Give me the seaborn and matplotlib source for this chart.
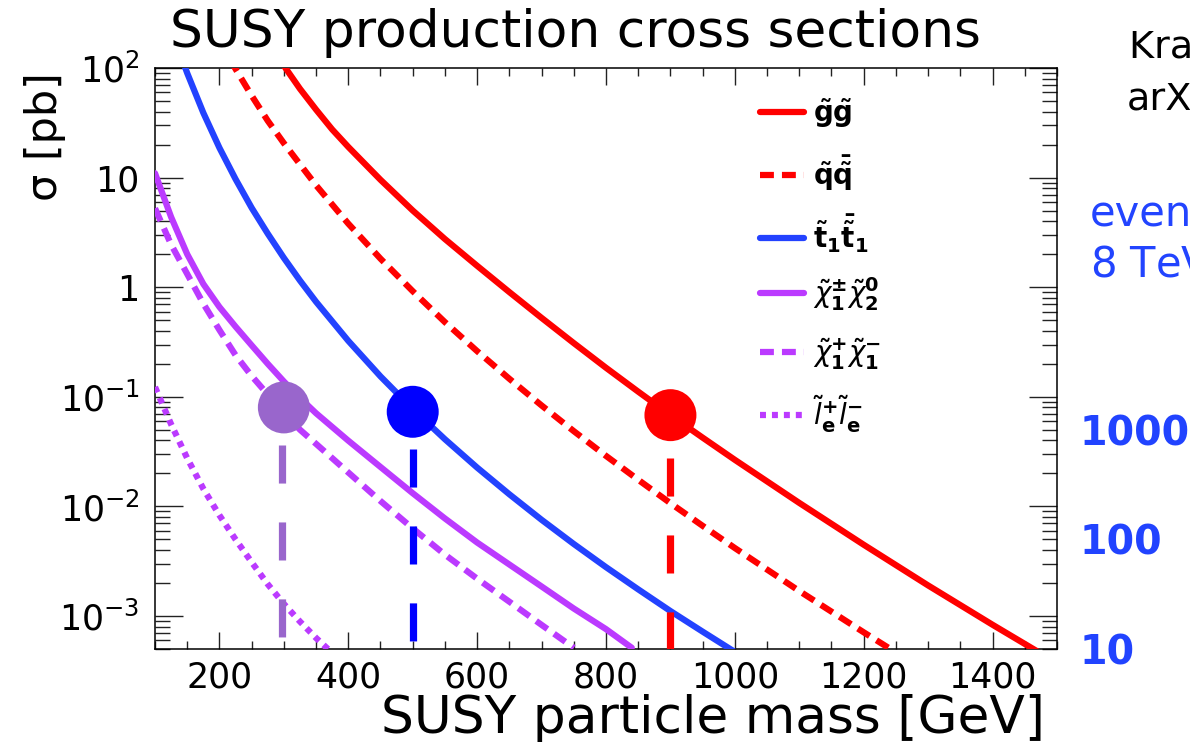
import numpy as np
import pandas as pd
import matplotlib
matplotlib.use("Agg")
import matplotlib.pyplot as plt
import seaborn as sns
from matplotlib.lines import Line2D
from matplotlib.ticker import FixedLocator, FixedFormatter, MultipleLocator, LogLocator, NullFormatter, NullLocator

# ---------------- data: NLO+NLL cross sections at 8 TeV (pb) ----------------
gg_mass = [300, 325, 350, 375, 400, 450, 500, 550, 600, 650, 700, 750, 800, 850, 900, 950, 1000,
           1100, 1200, 1300, 1400, 1500]
gg_xsec = [105, 64.6, 41.7, 27.5, 19.05, 9.55, 5.01, 2.75, 1.567, 0.902, 0.525, 0.309, 0.184, 0.1114,
           0.0681, 0.0424, 0.0266, 0.01076, 0.00447, 0.0019, 0.000832, 0.000372]

qq_mass = [200, 225, 250, 275, 300, 350, 400, 450, 500, 550, 600, 650, 700, 750, 800, 850, 900, 950,
           1000, 1100, 1200, 1250]
qq_xsec = [180, 98, 56, 33, 20.6, 8.5, 3.8, 1.82, 0.92, 0.48, 0.261, 0.146, 0.0834, 0.0486, 0.0289,
           0.0175, 0.0107, 0.00665, 0.00417, 0.00169, 0.00071, 0.000465]

tt_mass = [140, 150, 175, 200, 225, 250, 275, 300, 325, 350, 400, 450, 500, 550, 600, 650, 700, 750,
           800, 850, 900, 950, 1000]
tt_xsec = [130, 89.8, 39, 18.7, 9.7, 5.3, 3.08, 1.85, 1.15, 0.736, 0.324, 0.1535, 0.0774, 0.041,
           0.0226, 0.0129, 0.00755, 0.00454, 0.00279, 0.00175, 0.00111, 0.00072, 0.00047]

c1n2_mass = [100, 125, 150, 175, 200, 225, 250, 275, 300, 325, 350, 400, 450, 500, 550, 600, 650, 700,
             750, 800, 840]
c1n2_xsec = [10.96, 4.37, 2.0, 1.07, 0.66, 0.437, 0.295, 0.2, 0.138, 0.0977, 0.0708, 0.0398, 0.0229,
             0.0132, 0.00776, 0.00468, 0.00295, 0.00186, 0.00117, 0.000759, 0.000513]

c1c1_mass = [100, 125, 150, 175, 200, 225, 250, 275, 300, 325, 350, 400, 450, 500, 550, 600, 650, 700, 750]
c1c1_xsec = [5.25, 2.45, 1.32, 0.708, 0.407, 0.24, 0.155, 0.105, 0.0724, 0.0501, 0.0372, 0.0204, 0.0112,
             0.0063, 0.00363, 0.00219, 0.00135, 0.00083, 0.000513]

slep_mass = [100, 125, 150, 175, 200, 225, 250, 275, 300, 325, 350, 375]
slep_xsec = [0.123, 0.0562, 0.0275, 0.0145, 0.0083, 0.0050, 0.0031, 0.00195, 0.00129, 0.00089, 0.00063,
             0.00046]

series_keys = ["gg", "qq", "t1t1", "c1n2", "c1c1", "slep"]
series_labels = [
    r"$\mathbf{\tilde{g}\tilde{g}}$",
    r"$\mathbf{\tilde{q}\bar{\tilde{q}}}$",
    r"$\mathbf{\tilde{t}_{1}\bar{\tilde{t}}_{1}}$",
    r"$\tilde{\chi}^{\mathbf{\pm}}_{\mathbf{1}}\tilde{\chi}^{\mathbf{0}}_{\mathbf{2}}$",
    r"$\tilde{\chi}^{\mathbf{+}}_{\mathbf{1}}\tilde{\chi}^{\mathbf{-}}_{\mathbf{1}}$",
    r"$\tilde{l}^{\mathbf{+}}_{\mathbf{e}}\tilde{l}^{\mathbf{-}}_{\mathbf{e}}$",
]

# benchmark points and the guide lines dropped from them
bench_keys = ["ew", "stop", "gluino"]
bench_mass = [300, 500, 900]
bench_xsec = [0.080, 0.073, 0.068]
guide_mass = [297, 500, 899]
guide_top = [0.0367, 0.0337, 0.0279]

# event counts for 20 fb^-1 on the right-hand scale
lumi_invpb = 20000.0
event_ticks = [10, 100, 1000]
event_labels = ["10", "100", "1000"]

x_ticks = [200, 400, 600, 800, 1000, 1200, 1400]
x_ticklabels = ["200", "400", "600", "800", "1000", "1200", "1400"]
y_ticks = [1e-3, 1e-2, 1e-1, 1, 10, 100]
y_ticklabels = [r"$10^{-3}$", r"$10^{-2}$", r"$10^{-1}$", "1", "10", r"$10^{2}$"]

# ---------------- styling ----------------
sns.set_style("white")
plt.rcParams["font.family"] = ["DejaVu Sans"]
plt.rcParams["mathtext.fontset"] = "dejavusans"
plt.rcParams["lines.scale_dashes"] = False
plt.rcParams["axes.linewidth"] = 1.1
for key in ["text.color", "axes.labelcolor", "xtick.color", "ytick.color", "axes.edgecolor"]:
    plt.rcParams[key] = "black"

RED = "#FF0000"
BLUE = "#2342FF"
PURPLE = "#BB3AFF"
colors = {"gg": RED, "qq": RED, "t1t1": BLUE, "c1n2": PURPLE, "c1c1": PURPLE, "slep": PURPLE}
dash_map = {"gg": "", "qq": (10, 5.8), "t1t1": "", "c1n2": "", "c1c1": (10, 5.8), "slep": (4.3, 4.3)}
bench_colors = {"ew": "#9966CC", "stop": "#0000FF", "gluino": "#FF0000"}

frames = []
for key, m, s in [("gg", gg_mass, gg_xsec), ("qq", qq_mass, qq_xsec), ("t1t1", tt_mass, tt_xsec),
                  ("c1n2", c1n2_mass, c1n2_xsec), ("c1c1", c1c1_mass, c1c1_xsec),
                  ("slep", slep_mass, slep_xsec)]:
    frames.append(pd.DataFrame({"mass": m, "xsec": s, "process": key}))
curves = pd.concat(frames, ignore_index=True)
bench = pd.DataFrame({"mass": bench_mass, "xsec": bench_xsec, "point": bench_keys})

fig = plt.figure(figsize=(11.9, 7.42), dpi=100)
ax = fig.add_axes([155 / 1190, 1 - 649 / 742, 902 / 1190, 581 / 742])

sns.lineplot(data=curves, x="mass", y="xsec", hue="process", style="process",
             hue_order=series_keys, style_order=series_keys, palette=colors, dashes=dash_map,
             estimator=None, errorbar=None, linewidth=4.5, legend=False, ax=ax, zorder=3)
for ln in ax.get_lines():
    ln.set_dash_capstyle("butt")
    ln.set_solid_joinstyle("round")

# dashed guides from each benchmark down to the axis
for m, top, key in zip(guide_mass, guide_top, bench_keys):
    ax.plot([m, m], [top, 5e-4], color=bench_colors[key], linewidth=5.2,
            linestyle=(0, (27.4, 28)), dash_capstyle="butt", zorder=4)

sns.scatterplot(data=bench, x="mass", y="xsec", hue="point", hue_order=bench_keys,
                palette=bench_colors, s=1400, linewidth=0, legend=False, ax=ax, zorder=5)

ax.set_yscale("log")
ax.set_xlim(100, 1500)
ax.set_ylim(5e-4, 100)
ax.set_xlabel("")
ax.set_ylabel("")

ax.xaxis.set_major_locator(FixedLocator(x_ticks))
ax.xaxis.set_major_formatter(FixedFormatter(x_ticklabels))
ax.xaxis.set_minor_locator(MultipleLocator(50))
ax.yaxis.set_major_locator(FixedLocator(y_ticks))
ax.yaxis.set_major_formatter(FixedFormatter(y_ticklabels))
ax.yaxis.set_minor_locator(LogLocator(base=10, subs=np.arange(2, 10)))
ax.yaxis.set_minor_formatter(NullFormatter())

ax.tick_params(which="both", direction="in", bottom=True, left=True, top=True, right=True,
               width=1.0, color="#222222")
ax.tick_params(axis="x", which="major", length=12.2, labelsize=25, pad=8)
ax.tick_params(axis="x", which="minor", length=6)
ax.tick_params(axis="y", which="major", length=20, labelsize=25, pad=11)
ax.tick_params(axis="y", which="minor", length=10.8)
for sp in ax.spines.values():
    sp.set_color("black")

# right-hand scale: expected events
sec = ax.secondary_yaxis("right", functions=(lambda s: np.asarray(s) * lumi_invpb,
                                               lambda n: np.asarray(n) / lumi_invpb))
sec.yaxis.set_major_locator(FixedLocator(event_ticks))
sec.yaxis.set_major_formatter(FixedFormatter(event_labels))
sec.yaxis.set_minor_locator(NullLocator())
sec.tick_params(axis="y", length=0, pad=16, labelsize=28.5, labelcolor="#2143FF")
sec.spines["right"].set_visible(False)
for t in sec.get_yticklabels():
    t.set_fontweight("bold")

# legend: one evenly spaced row per process
row_top = 0.9225
row_step = 0.1036
for i, key in enumerate(series_keys):
    h = Line2D([], [], color=colors[key], linewidth=4.5,
               linestyle="-" if dash_map[key] == "" else (0, dash_map[key]), dash_capstyle="butt")
    leg = ax.legend([h], [series_labels[i]], loc="center left",
                    bbox_to_anchor=(0.6707, row_top - i * row_step),
                    frameon=False, fontsize=20, handlelength=1.58, handletextpad=0.32,
                    borderpad=0, borderaxespad=0)
    if i < len(series_keys) - 1:
        ax.add_artist(leg)

# titles and axis labels
fig.text(170 / 1190, 1 - 47 / 742, "SUSY production cross sections", fontsize=37.3,
         ha="left", va="baseline")
fig.text(1045 / 1190, 1 - 733 / 742, "SUSY particle mass [GeV]", fontsize=37.3,
         ha="right", va="baseline")
fig.text(45 / 1190, 1 - 72 / 742, r"σ [pb]", fontsize=31, rotation=90, ha="center", va="top")

# side notes
fig.text(1129 / 1190, 1 - 58 / 742, "Kramer et al.", fontsize=27.5, ha="left", va="baseline")
fig.text(1127 / 1190, 1 - 110 / 742, "arXiv:1206.2892", fontsize=27.5, ha="left", va="baseline")
fig.text(1090 / 1190, 1 - 225 / 742, "events", fontsize=30, color="#2244FF", ha="left", va="baseline")
fig.text(1090 / 1190, 1 - 278 / 742, "8 TeV, 20 fb$^{-1}$", fontsize=30, color="#2244FF",
         ha="left", va="baseline")

fig.savefig("out.png", dpi=100)
